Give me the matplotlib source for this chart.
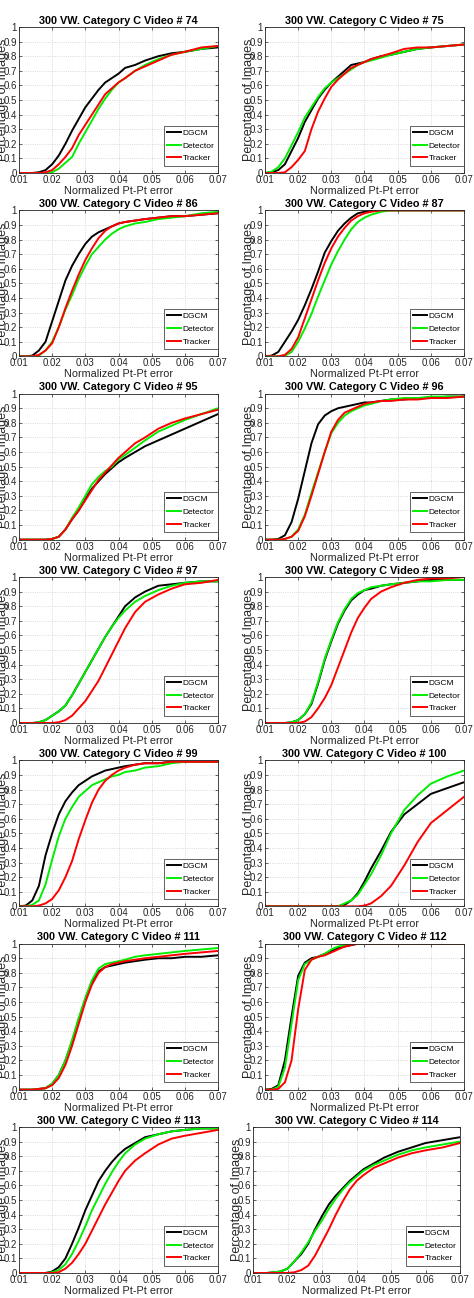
import numpy as np
import matplotlib
matplotlib.use("Agg")
import matplotlib.pyplot as plt

plt.rcParams['font.family'] = ['Liberation Sans', 'DejaVu Sans']

# normalized pt-pt error sample points (shared by all curves)
XS = [0.010, 0.012, 0.014, 0.016, 0.018, 0.020, 0.022, 0.024, 0.026, 0.028,
      0.030, 0.032, 0.034, 0.036, 0.038, 0.040, 0.042, 0.045, 0.048, 0.052,
      0.056, 0.060, 0.065, 0.070]

videos = [74, 75, 86, 87, 95, 96, 97, 98, 99, 100, 111, 112, 113, 114]
methods = ['DGCM', 'Detector', 'Tracker']
colors = ['black', '#00ee00', '#ff0000']

v74_dgcm = [0, 0, 0, .005, .02, .06, .12, .20, .29, .37, .45, .51, .57, .62, .65, .68, .72, .74, .77, .80, .82, .83, .85, .86]
v74_det = [0, 0, 0, 0, 0, .005, .03, .07, .11, .20, .28, .36, .44, .51, .57, .62, .65, .70, .74, .78, .81, .83, .85, .87]
v74_trk = [0, 0, 0, 0, .005, .02, .06, .11, .17, .26, .33, .40, .47, .54, .58, .62, .65, .70, .73, .77, .81, .83, .86, .87]

v75_dgcm = [0, .005, .02, .06, .15, .24, .35, .43, .51, .57, .62, .66, .70, .74, .75, .76, .78, .80, .81, .83, .85, .86, .87, .88]
v75_det = [0, .01, .04, .10, .19, .28, .38, .45, .52, .58, .62, .65, .68, .71, .74, .76, .77, .79, .81, .83, .85, .86, .87, .88]
v75_trk = [0, 0, 0, .005, .04, .09, .15, .30, .42, .51, .59, .64, .68, .72, .74, .76, .78, .80, .82, .85, .86, .86, .87, .88]

v86_dgcm = [0, 0, .005, .04, .10, .24, .38, .52, .62, .70, .77, .82, .85, .87, .89, .91, .92, .93, .94, .95, .96, .96, .97, .98]
v86_det = [0, 0, 0, .005, .04, .10, .20, .32, .42, .53, .62, .70, .75, .80, .84, .87, .89, .91, .92, .94, .95, .96, .98, .99]
v86_trk = [0, 0, 0, .01, .04, .09, .20, .33, .45, .56, .66, .74, .81, .86, .89, .91, .92, .93, .94, .95, .96, .96, .97, .98]

v87_dgcm = [0, .005, .03, .10, .17, .25, .35, .46, .58, .71, .79, .86, .91, .95, .98, .99, 1, 1, 1, 1, 1, 1, 1, 1]
v87_det = [0, 0, 0, .005, .03, .10, .19, .29, .41, .52, .63, .72, .80, .87, .92, .95, .97, .99, 1, 1, 1, 1, 1, 1]
v87_trk = [0, 0, 0, .01, .05, .13, .26, .39, .52, .64, .74, .82, .88, .93, .96, .98, .99, 1, 1, 1, 1, 1, 1, 1]

v95_dgcm = [0, 0, 0, 0, 0, .005, .02, .07, .14, .20, .28, .35, .40, .45, .49, .53, .56, .60, .64, .68, .72, .76, .81, .86]
v95_det = [0, 0, 0, 0, 0, .005, .02, .07, .15, .22, .30, .38, .43, .47, .50, .55, .58, .63, .68, .74, .78, .82, .86, .90]
v95_trk = [0, 0, 0, 0, 0, .005, .02, .07, .14, .20, .27, .34, .41, .46, .51, .56, .60, .66, .70, .76, .80, .83, .86, .89]

v96_dgcm = [0, 0, .005, .03, .12, .28, .47, .66, .79, .85, .88, .90, .91, .92, .93, .94, .94, .95, .96, .96, .97, .97, .98, .98]
v96_det = [0, 0, 0, .005, .02, .07, .17, .32, .46, .60, .73, .80, .85, .88, .90, .92, .93, .95, .96, .97, .97, .98, .98, .98]
v96_trk = [0, 0, 0, .005, .02, .06, .16, .30, .45, .60, .74, .82, .87, .89, .91, .93, .94, .95, .95, .96, .96, .97, .97, .98]

v97_dgcm = [0, 0, 0, .005, .02, .05, .08, .12, .19, .27, .35, .43, .51, .59, .66, .73, .80, .86, .90, .94, .95, .96, .97, .97]
v97_det = [0, 0, 0, .005, .02, .05, .08, .12, .19, .27, .35, .43, .51, .59, .66, .72, .77, .83, .87, .91, .94, .96, .97, .97]
v97_trk = [0, 0, 0, 0, 0, 0, .005, .02, .05, .10, .15, .22, .29, .38, .47, .56, .65, .76, .83, .88, .92, .95, .96, .98]

v98_dgcm = [0, 0, 0, 0, .005, .02, .06, .13, .27, .43, .56, .68, .77, .84, .88, .91, .92, .94, .95, .96, .97, .98, .98, .98]
v98_det = [0, 0, 0, 0, .005, .02, .06, .14, .28, .44, .57, .69, .78, .85, .89, .91, .93, .94, .95, .96, .97, .97, .98, .98]
v98_trk = [0, 0, 0, 0, 0, 0, .01, .04, .10, .17, .26, .38, .50, .62, .72, .79, .85, .90, .93, .96, .98, .99, .99, 1.0]

v99_dgcm = [0, .005, .04, .14, .35, .50, .63, .72, .78, .83, .86, .89, .91, .93, .94, .95, .96, .97, .98, .98, .99, .99, .99, .99]
v99_det = [0, 0, .01, .04, .15, .32, .48, .60, .68, .75, .79, .83, .85, .87, .89, .90, .92, .93, .95, .96, .98, .99, .99, .99]
v99_trk = [0, 0, 0, .005, .02, .05, .11, .20, .31, .46, .59, .71, .80, .86, .90, .93, .95, .97, .98, .98, .99, .99, .99, .99]

v100_dgcm = [0, 0, 0, 0, 0, 0, 0, 0, 0, 0, 0, 0, .01, .04, .09, .17, .26, .38, .51, .63, .70, .77, .81, .85]
v100_det = [0, 0, 0, 0, 0, 0, 0, 0, 0, 0, 0, 0, .02, .04, .08, .15, .22, .35, .50, .66, .76, .84, .89, .93]
v100_trk = [0, 0, 0, 0, 0, 0, 0, 0, 0, 0, 0, 0, 0, 0, 0, .005, .02, .07, .14, .28, .44, .57, .66, .75]

v111_dgcm = [0, 0, 0, .005, .01, .04, .10, .20, .33, .48, .62, .74, .81, .84, .85, .86, .87, .88, .89, .90, .90, .91, .91, .92]
v111_det = [0, 0, 0, .005, .01, .04, .10, .20, .34, .49, .63, .75, .83, .86, .87, .88, .89, .91, .92, .93, .94, .95, .96, .97]
v111_trk = [0, 0, 0, .005, .01, .03, .08, .17, .30, .45, .60, .72, .80, .84, .86, .87, .88, .89, .90, .91, .92, .93, .94, .95]

v112_dgcm = [0, .005, .03, .20, .50, .78, .87, .90, .91, .93, .95, .97, .98, .99, 1, 1, 1, 1, 1, 1, 1, 1, 1, 1]
v112_det = [0, 0, .02, .15, .45, .75, .86, .89, .91, .93, .96, .98, .99, 1, 1, 1, 1, 1, 1, 1, 1, 1, 1, 1]
v112_trk = [0, 0, .005, .05, .20, .55, .82, .89, .91, .92, .94, .96, .98, .99, 1, 1, 1, 1, 1, 1, 1, 1, 1, 1]

v113_dgcm = [0, 0, 0, 0, 0, .01, .04, .10, .20, .31, .43, .53, .63, .70, .76, .81, .85, .89, .93, .95, .97, .98, .99, .99]
v113_det = [0, 0, 0, 0, 0, .005, .02, .06, .13, .22, .32, .43, .52, .61, .69, .76, .82, .88, .92, .95, .97, .98, .99, .99]
v113_trk = [0, 0, 0, 0, 0, 0, .005, .03, .07, .13, .20, .29, .38, .47, .55, .63, .70, .77, .82, .88, .92, .94, .96, .98]

v114_dgcm = [0, 0, 0, .005, .01, .03, .08, .13, .20, .30, .39, .47, .53, .58, .63, .67, .71, .75, .79, .83, .86, .89, .91, .93]
v114_det = [0, 0, 0, .005, .01, .03, .08, .14, .21, .29, .36, .44, .51, .57, .62, .66, .70, .74, .77, .81, .84, .86, .88, .90]
v114_trk = [0, 0, 0, 0, 0, 0, .005, .02, .05, .12, .21, .30, .40, .49, .57, .63, .67, .72, .75, .79, .82, .84, .86, .89]

curves = {
    74: (v74_dgcm, v74_det, v74_trk), 75: (v75_dgcm, v75_det, v75_trk),
    86: (v86_dgcm, v86_det, v86_trk), 87: (v87_dgcm, v87_det, v87_trk),
    95: (v95_dgcm, v95_det, v95_trk), 96: (v96_dgcm, v96_det, v96_trk),
    97: (v97_dgcm, v97_det, v97_trk), 98: (v98_dgcm, v98_det, v98_trk),
    99: (v99_dgcm, v99_det, v99_trk), 100: (v100_dgcm, v100_det, v100_trk),
    111: (v111_dgcm, v111_det, v111_trk), 112: (v112_dgcm, v112_det, v112_trk),
    113: (v113_dgcm, v113_det, v113_trk), 114: (v114_dgcm, v114_det, v114_trk),
}

W, H = 474, 1298
fig = plt.figure(figsize=(W / 100, H / 100), dpi=100)
fig.patch.set_facecolor('white')

dark = '#262626'
for i, vid in enumerate(videos):
    row, col = divmod(i, 2)
    top = 27 + 183.33 * row
    left, width = (19, 199) if col == 0 else (265, 199)
    if vid == 114:
        left, width = 253, 207
    ax = fig.add_axes([left / W, 1 - (top + 146) / H, width / W, 146 / H])

    for ys, name, c in zip(curves[vid], methods, colors):
        ax.plot(XS, ys, color=c, lw=1.4, label=name)

    ax.set_xlim(0.01, 0.07)
    ax.set_ylim(0, 1)
    ax.set_xticks(np.arange(0.01, 0.0701, 0.01))
    ax.set_xticklabels(['0.01', '0.02', '0.03', '0.04', '0.05', '0.06', '0.07'])
    ax.set_yticks(np.arange(0, 1.01, 0.1))
    ax.set_yticklabels(['0', '0.1', '0.2', '0.3', '0.4', '0.5', '0.6', '0.7', '0.8', '0.9', '1'])
    ax.grid(True, linestyle=':', color='#cfcfcf', linewidth=0.6)
    ax.tick_params(direction='in', length=2, width=0.5, labelsize=7, pad=1.5,
                   colors=dark, top=True, right=True)
    for s in ax.spines.values():
        s.set_color(dark)
        s.set_linewidth(0.6)

    ax.set_title('300 VW. Category C Video # %d' % vid, fontsize=7.8,
                 fontweight='bold', pad=2.5)
    ax.set_xlabel('Normalized Pt-Pt error', fontsize=7.8, color=dark)
    ax.xaxis.set_label_coords(0.5, -18 / 146)
    ax.xaxis.label.set_va('center')
    ax.set_ylabel('Percentage of Images', fontsize=9, color=dark)
    ax.yaxis.set_label_coords(-16 / width, 0.5)
    ax.yaxis.label.set_va('center')

    leg = ax.legend(loc='lower right', bbox_to_anchor=(1.0, 0.05), borderaxespad=0,
                    fontsize=6, handlelength=1.6, handletextpad=0.25,
                    labelspacing=0.6, borderpad=0.4, fancybox=False,
                    framealpha=1, edgecolor=dark)
    leg.get_frame().set_linewidth(0.5)

fig.savefig('out.png', dpi=100)
